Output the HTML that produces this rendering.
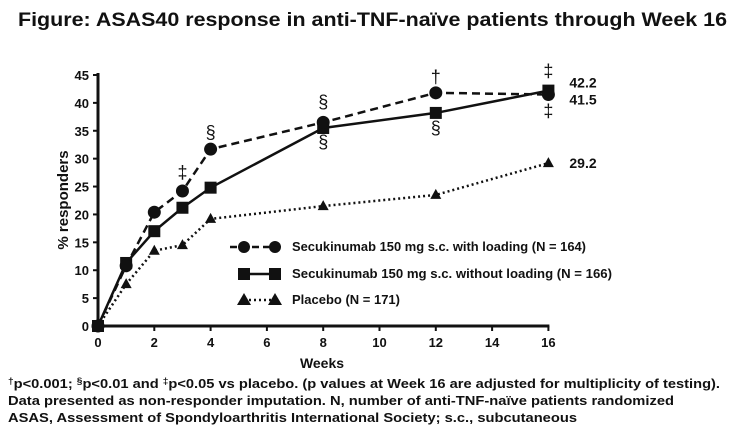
<!DOCTYPE html>
<html><head><meta charset="utf-8"><style>
body{margin:0;background:#fff;width:741px;height:437px;overflow:hidden;font-family:"Liberation Sans",Arial,sans-serif}
svg text{font-family:"Liberation Sans",Arial,sans-serif;font-weight:bold;fill:#111}
</style></head><body>
<svg id="chart" width="741" height="437">
<text x="18" y="26" font-size="19" textLength="709" lengthAdjust="spacingAndGlyphs">Figure: ASAS40 response in anti-TNF-naïve patients through Week 16</text>
<g id="axes"></g><g id="series"></g>
<text x="322" y="368" font-size="14" text-anchor="middle">Weeks</text>
<text transform="translate(68,200) rotate(-90)" font-size="15" text-anchor="middle">% responders</text>
<g>
<line x1="230" y1="247" x2="276" y2="247" stroke="#111" stroke-width="2.5" stroke-dasharray="7,4"/>
<circle cx="244" cy="247" r="6" fill="#111"/><circle cx="275" cy="247" r="6" fill="#111"/>
<text x="292" y="251" font-size="12.5" textLength="294" lengthAdjust="spacingAndGlyphs">Secukinumab 150 mg s.c. with loading (N = 164)</text>
<line x1="244" y1="274" x2="276" y2="274" stroke="#111" stroke-width="2.5"/>
<rect x="238" y="268" width="12" height="12" fill="#111"/><rect x="269" y="268" width="12" height="12" fill="#111"/>
<text x="292" y="278" font-size="12.5" textLength="320" lengthAdjust="spacingAndGlyphs">Secukinumab 150 mg s.c. without loading (N = 166)</text>
<line x1="244" y1="300" x2="276" y2="300" stroke="#111" stroke-width="2.5" stroke-dasharray="2,3"/>
<polygon points="244,293 251,305 237,305" fill="#111"/><polygon points="275,293 282,305 268,305" fill="#111"/>
<text x="292" y="304" font-size="12.5" textLength="108" lengthAdjust="spacingAndGlyphs">Placebo (N = 171)</text>
</g>
<g>
<text x="8" y="388" font-size="13" textLength="712" lengthAdjust="spacingAndGlyphs"><tspan font-size="9" dy="-4">†</tspan><tspan dy="4">p&lt;0.001; </tspan><tspan font-size="9" dy="-4">§</tspan><tspan dy="4">p&lt;0.01 and </tspan><tspan font-size="9" dy="-4">‡</tspan><tspan dy="4">p&lt;0.05 vs placebo. (p values at Week 16 are adjusted for multiplicity of testing).</tspan></text>
<text x="8" y="405" font-size="13" textLength="666" lengthAdjust="spacingAndGlyphs">Data presented as non-responder imputation. N, number of anti-TNF-naïve patients randomized</text>
<text x="8" y="422" font-size="13" textLength="569" lengthAdjust="spacingAndGlyphs">ASAS, Assessment of Spondyloarthritis International Society; s.c., subcutaneous</text>
</g>
</svg>
<script>
const weeks=[0,1,2,3,4,8,12,16];
const withLoading=[0,10.8,20.4,24.2,31.7,36.5,41.8,41.5];
const withoutLoading=[0,11.3,17,21.2,24.8,35.5,38.2,42.2];
const placebo=[0,7.5,13.5,14.5,19.2,21.5,23.5,29.2];
const yTicks=[0,5,10,15,20,25,30,35,40,45];
const xTicks=[0,2,4,6,8,10,12,14,16];
const annotWeeks=[3,4,8,8,12,12,16,16];
const annotSymbols=['‡','§','§','§','†','§','‡','‡'];
const annotValues=[27.5,34.7,40.2,33,44.6,35.5,45.7,38.5];
const endLabels=['42.2','41.5','29.2'];
const endValues=[42.2,41.5,29.2];
const NS='http://www.w3.org/2000/svg';
const X=w=>98+w*28.15, Y=v=>326-v*5.578;
function mk(p,t,a){const e=document.createElementNS(NS,t);for(const k in a)e.setAttribute(k,a[k]);p.appendChild(e);return e;}
const ax=document.getElementById('axes'),sr=document.getElementById('series');
let l=mk(ax,'line',{x1:98,y1:Y(45)-2,x2:98,y2:327,stroke:'#111','stroke-width':3});


l=mk(ax,'line',{x1:97,y1:326,x2:X(16)+1,y2:326,stroke:'#111','stroke-width':3});


yTicks.forEach(v=>{mk(ax,'line',{x1:93,y1:Y(v),x2:98,y2:Y(v),stroke:'#111','stroke-width':2});
const t=mk(ax,'text',{x:89,y:Y(v)+5,'text-anchor':'end','font-size':13});t.textContent=v;

});
xTicks.forEach(v=>{mk(ax,'line',{x1:X(v),y1:326,x2:X(v),y2:331,stroke:'#111','stroke-width':2});
const t=mk(ax,'text',{x:X(v),y:347,'text-anchor':'middle','font-size':13});t.textContent=v;

});
function series(vals,dash,shape,name){
const g=mk(sr,'g',{});


mk(g,'polyline',{points:vals.map((v,i)=>X(weeks[i])+','+Y(v)).join(' '),fill:'none',stroke:'#111','stroke-width':2.5,'stroke-dasharray':dash});
vals.forEach((v,i)=>{const x=X(weeks[i]),y=Y(v);let m;
if(shape==='c')m=mk(g,'circle',{cx:x,cy:y,r:6.5,fill:'#111'});
else if(shape==='s')m=mk(g,'rect',{x:x-6,y:y-6,width:12,height:12,fill:'#111'});
else m=mk(g,'polygon',{points:`${x},${y-6} ${x+5.5},${y+4} ${x-5.5},${y+4}`,fill:'#111'});

});}
series(placebo,'2,3','t','placebo-series');
series(withoutLoading,'','s','without-loading-series');
series(withLoading,'8,5','c','with-loading-series');
annotWeeks.forEach((w,i)=>{const t=mk(sr,'text',{x:X(w),y:Y(annotValues[i])+6,'text-anchor':'middle','font-size':18});
t.style.fontWeight='normal';t.textContent=annotSymbols[i];

});
const ly=[Y(endValues[0])-3,Y(endValues[1])+10,Y(endValues[2])+5];
endLabels.forEach((s,i)=>{const t=mk(sr,'text',{x:X(16)+21,y:ly[i],'font-size':14});t.textContent=s;

});
</script>
</body></html>
